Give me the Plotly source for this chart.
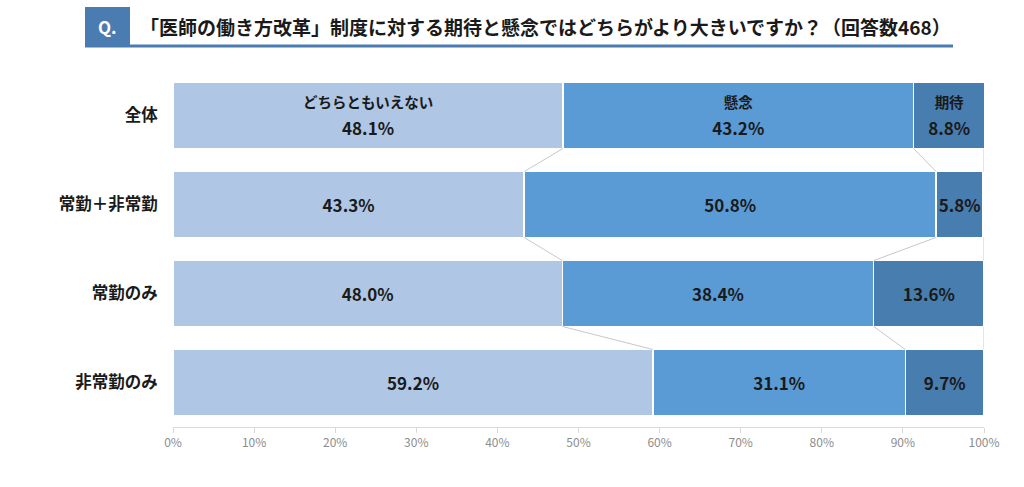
import plotly.graph_objects as go

# ---- data ----
categories = ["全体", "常勤＋非常勤", "常勤のみ", "非常勤のみ"]
series_names = ["どちらともいえない", "懸念", "期待"]
neither = [48.1, 43.3, 48.0, 59.2]
concern = [43.2, 50.8, 38.4, 31.1]
expect = [8.8, 5.8, 13.6, 9.7]
tick_vals = [0, 10, 20, 30, 40, 50, 60, 70, 80, 90, 100]
title_text = "「医師の働き方改革」制度に対する期待と懸念ではどちらがより大きいですか？（回答数468）"

colors = ["#afc6e4", "#5b9bd5", "#487db0"]
FONT = "Noto Sans CJK JP"

W, H = 1024, 487
L, R, T, B = 173, 40, 71, 60
PW, PH = W - L - R, H - T - B


def px2x(px):
    return (px - L) / PW


def py2y(py):
    return (H - B - py) / PH


series = [neither, concern, expect]
fig = go.Figure()
for s, (name, vals) in enumerate(zip(series_names, series)):
    texts, sizes = [], []
    for i, v in enumerate(vals):
        if i == 0:
            texts.append(f"<span style='font-size:14.5px'><b>{name}</b></span><br>"
                         f"<span style='font-size:17px'><b>{v:.1f}%</b></span>")
            sizes.append(21)
        else:
            texts.append(f"<b>{v:.1f}%</b>")
            sizes.append(17)
    fig.add_trace(go.Bar(
        y=categories, x=vals, orientation="h", name=name,
        marker=dict(color=colors[s], line=dict(color="white", width=1.5)),
        width=0.74,
        text=texts, textposition="inside", insidetextanchor="middle",
        textangle=0, constraintext="none",
        textfont=dict(family=FONT, size=sizes, color="#1a1a1a"),
        hoverinfo="skip",
    ))

# connector lines between bars
hw = 0.37
shapes = []
cum1 = neither
cum2 = [a + b for a, b in zip(neither, concern)]
for i in range(len(categories) - 1):
    for c in (cum1, cum2):
        shapes.append(dict(type="line", xref="x", yref="y",
                           x0=c[i], y0=i + hw, x1=c[i + 1], y1=i + 1 - hw,
                           line=dict(color="#c8c8c8", width=1)))
    shapes.append(dict(type="line", xref="x", yref="y",
                       x0=100, y0=i + hw, x1=100, y1=i + 1 - hw,
                       line=dict(color="#c8c8c8", width=1)))

# title decorations
qcol = "#4a7cb1"
shapes.append(dict(type="rect", xref="paper", yref="paper",
                   x0=px2x(85), x1=px2x(130), y0=py2y(45), y1=py2y(7),
                   fillcolor=qcol, line=dict(width=0), layer="above"))
shapes.append(dict(type="rect", xref="paper", yref="paper",
                   x0=px2x(85), x1=px2x(953), y0=py2y(47.5), y1=py2y(44.5),
                   fillcolor=qcol, line=dict(width=0), layer="above"))

annotations = [
    dict(xref="paper", yref="paper", x=px2x(107.5), y=py2y(27), text="<b>Q.</b>",
         showarrow=False, xanchor="center", yanchor="middle",
         font=dict(family=FONT, size=17, color="white")),
    dict(xref="paper", yref="paper", x=px2x(138), y=py2y(26), text="<b>" + title_text + "</b>",
         showarrow=False, xanchor="left", yanchor="middle",
         font=dict(family=FONT, size=19, color="#1a1a1a")),
]

fig.update_layout(
    width=W, height=H,
    margin=dict(l=L, r=R, t=T, b=B),
    barmode="stack", bargap=0.26,
    plot_bgcolor="white", paper_bgcolor="white",
    showlegend=False,
    shapes=shapes, annotations=annotations,
    xaxis=dict(range=[0, 100], tickvals=tick_vals,
               ticktext=[f"{v}%" for v in tick_vals],
               showgrid=False, zeroline=False,
               showline=True, linecolor="#d9d9d9", linewidth=1,
               ticks="outside", ticklen=5, tickcolor="#d9d9d9",
               tickfont=dict(family="Liberation Sans Narrow, " + FONT, size=12, color="#8c8c8c")),
    yaxis=dict(autorange="reversed", showgrid=False, zeroline=False,
               ticks="outside", ticklen=11, tickcolor="rgba(0,0,0,0)",
               tickfont=dict(family=FONT, size=16.5, color="#1a1a1a"),
               ticktext=[f"<b>{c}</b>" for c in categories], tickvals=categories),
)

fig.write_html("out.html")
